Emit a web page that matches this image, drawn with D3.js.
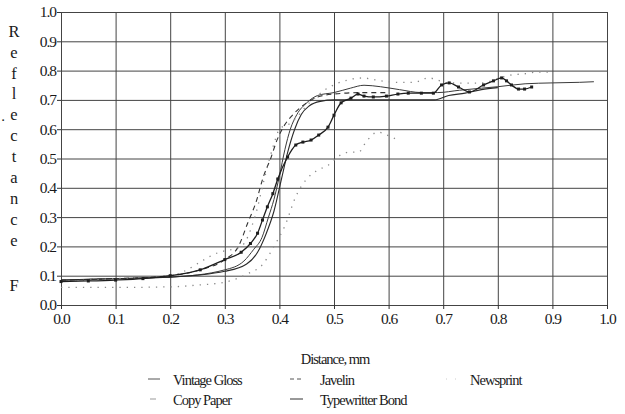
<!DOCTYPE html>
<meta charset="utf-8">
<style>
body { margin: 0; background: #fff; }
svg { display: block; }
text { font-family: "Liberation Serif", "DejaVu Serif", serif; fill: #1a1a1a; }
.grid line { stroke: #444; stroke-width: 1; }
.grid path { display: none; }
.axis path { display: none; }
.axis line { stroke: #333; }
.axis text { font-size: 15.5px; letter-spacing: -1px; }
.series { fill: none; }
</style>
<svg width="625" height="414"></svg>
<script src="https://d3js.org/d3.v7.min.js"></script>
<script>

// tick values for both axes
var ticks = [0, 0.1, 0.2, 0.3, 0.4, 0.5, 0.6, 0.7, 0.8, 0.9, 1.0];

// [distance mm, reflectance]
var vintageGloss = [[0,0.085],[0.1,0.09],[0.2,0.095],[0.3,0.12],[0.335,0.15],[0.353,0.19],[0.368,0.23],
  [0.38,0.3],[0.39,0.36],[0.4,0.44],[0.41,0.53],[0.42,0.6],[0.432,0.65],[0.45,0.69],[0.47,0.715],
  [0.5,0.725],[0.53,0.74],[0.555,0.75],[0.585,0.745],[0.62,0.735],[0.66,0.725],[0.69,0.725],
  [0.73,0.733],[0.77,0.74],[0.8,0.745],[0.85,0.755],[0.9,0.758],[0.95,0.76],[0.976,0.762]];

var javelin = [[0,0.085],[0.1,0.09],[0.2,0.1],[0.255,0.12],[0.3,0.155],[0.325,0.2],[0.342,0.28],
  [0.357,0.35],[0.371,0.44],[0.384,0.5],[0.395,0.56],[0.405,0.6],[0.425,0.65],[0.45,0.69],
  [0.47,0.71],[0.5,0.72],[0.55,0.725],[0.6,0.725]];

var newsprint = [[0,0.08],[0.1,0.09],[0.2,0.1],[0.29,0.18],[0.33,0.2],[0.355,0.3],[0.375,0.45],
  [0.39,0.55],[0.4,0.6],[0.42,0.62],[0.455,0.69],[0.48,0.73],[0.507,0.757],[0.53,0.77],
  [0.555,0.775],[0.57,0.77],[0.617,0.76],[0.647,0.76],[0.673,0.775],[0.71,0.758],[0.765,0.757],
  [0.825,0.785],[0.853,0.79],[0.87,0.795],[0.895,0.795]];

var copyPaper = [[0,0.06],[0.1,0.06],[0.2,0.062],[0.25,0.068],[0.3,0.078],[0.34,0.105],[0.37,0.14],
  [0.39,0.2],[0.41,0.27],[0.43,0.37],[0.45,0.43],[0.47,0.46],[0.49,0.478],[0.51,0.51],[0.53,0.522],
  [0.545,0.522],[0.56,0.56],[0.58,0.59],[0.6,0.578],[0.615,0.565]];

var typewritterBond = [[0,0.08],[0.05,0.082],[0.1,0.085],[0.15,0.09],[0.2,0.1],[0.255,0.12],[0.3,0.155],
  [0.33,0.18],[0.347,0.21],[0.36,0.245],[0.369,0.29],[0.378,0.335],[0.388,0.38],[0.397,0.43],
  [0.415,0.505],[0.43,0.546],[0.443,0.556],[0.458,0.563],[0.472,0.58],[0.489,0.607],[0.5,0.648],
  [0.513,0.69],[0.531,0.706],[0.544,0.72],[0.555,0.713],[0.572,0.71],[0.596,0.713],[0.617,0.72],
  [0.636,0.723],[0.66,0.723],[0.682,0.723],[0.697,0.751],[0.711,0.758],[0.728,0.744],[0.748,0.727],
  [0.774,0.751],[0.792,0.765],[0.807,0.775],[0.816,0.765],[0.825,0.751],[0.838,0.737],
  [0.849,0.737],[0.862,0.744]];

// a sixth trace that has no entry in the legend
var unlabeled = [[0,0.085],[0.1,0.09],[0.2,0.095],[0.3,0.115],[0.34,0.14],[0.36,0.18],[0.375,0.24],
  [0.39,0.32],[0.405,0.44],[0.415,0.52],[0.428,0.6],[0.44,0.65],[0.455,0.68],[0.475,0.695],
  [0.5,0.7],[0.55,0.7],[0.6,0.7],[0.65,0.7],[0.684,0.7],[0.71,0.715],[0.74,0.723],[0.77,0.735],[0.8,0.742]];

var yTitle = "Reflectance".split("");

var svg = d3.select("svg");

var x = d3.scaleLinear().domain([0, 1]).range([61, 607]);
var y = d3.scaleLinear().domain([0, 1]).range([305, 12]);

// grid
svg.append("g").attr("class", "grid")
    .attr("transform", "translate(0,305)")
    .call(d3.axisBottom(x).tickValues(ticks).tickSize(-293).tickFormat(""));
svg.append("g").attr("class", "grid")
    .attr("transform", "translate(61,0)")
    .call(d3.axisLeft(y).tickValues(ticks).tickSize(-546).tickFormat(""));

// axes
svg.append("g").attr("class", "axis")
    .attr("transform", "translate(0,305)")
    .call(d3.axisBottom(x).tickValues(ticks).tickSize(4).tickPadding(4).tickFormat(d3.format(".1f")));
svg.append("g").attr("class", "axis")
    .attr("transform", "translate(61,0)")
    .call(d3.axisLeft(y).tickValues(ticks).tickSize(4).tickPadding(1).tickFormat(d3.format(".1f")));

var line = d3.line()
    .x(function(d) { return x(d[0]); })
    .y(function(d) { return y(d[1]); })
    .curve(d3.curveMonotoneX);

var styles = [
  { data: vintageGloss, stroke: "#3a3a3a", width: 1, dash: null },
  { data: unlabeled, stroke: "#2a2a2a", width: 1.1, dash: null },
  { data: javelin, stroke: "#333", width: 1.1, dash: "5,4" },
  { data: newsprint, stroke: "#8a8a8a", width: 1.3, dash: "1.3,6" },
  { data: copyPaper, stroke: "#8a8a8a", width: 1.3, dash: "1.3,6" },
  { data: typewritterBond, stroke: "#1e1e1e", width: 1.3, dash: null }
];

styles.forEach(function(s) {
  svg.append("path").attr("class", "series")
      .attr("d", line(s.data))
      .attr("stroke", s.stroke)
      .attr("stroke-width", s.width)
      .attr("stroke-dasharray", s.dash);
});

svg.append("g").selectAll("rect")
  .data(typewritterBond)
  .enter().append("rect")
    .attr("x", function(d) { return x(d[0]) - 1.5; })
    .attr("y", function(d) { return y(d[1]) - 1.5; })
    .attr("width", 3)
    .attr("height", 3)
    .attr("fill", "#1e1e1e");

// y title, one letter per row
svg.append("g").selectAll("text")
  .data(yTitle)
  .enter().append("text")
    .attr("x", 14)
    .attr("y", function(d, i) { return 31 + i * 20.9; })
    .attr("dy", "0.35em")
    .attr("text-anchor", "middle")
    .style("font-size", "16.5px")
    .text(function(d) { return d; });
svg.append("text").attr("x", 14).attr("y", 285).attr("dy", "0.35em")
    .attr("text-anchor", "middle").style("font-size", "16.5px").text("F");
svg.append("text").attr("x", 3).attr("y", 116).attr("dy", "0.35em")
    .attr("text-anchor", "middle").style("font-size", "15px").text(".");

// x title
svg.append("text").attr("x", 335).attr("y", 364)
    .attr("text-anchor", "middle")
    .style("font-size", "14.5px").style("letter-spacing", "-1px")
    .text("Distance, mm");

// legend
var legend = [
  { name: "Vintage Gloss", x: 148, tx: 173, y: 381, stroke: "#555", dash: null, len: 12 },
  { name: "Javelin", x: 290, tx: 320, y: 381, stroke: "#555", dash: "4,3", len: 12 },
  { name: "Newsprint", x: 446, tx: 470, y: 381, stroke: "#ccc", dash: "1,8", len: 12 },
  { name: "Copy Paper", x: 150, tx: 173, y: 401, stroke: "#999", dash: null, len: 6 },
  { name: "Typewritter Bond", x: 290, tx: 320, y: 401, stroke: "#333", dash: null, len: 13 }
];

var lg = svg.append("g").selectAll("g")
  .data(legend)
  .enter().append("g");

lg.append("line")
    .attr("x1", function(d) { return d.x; })
    .attr("x2", function(d) { return d.x + d.len; })
    .attr("y1", function(d) { return d.y - 2; })
    .attr("y2", function(d) { return d.y - 2; })
    .attr("stroke", function(d) { return d.stroke; })
    .attr("stroke-dasharray", function(d) { return d.dash; });

lg.append("text")
    .attr("x", function(d) { return d.tx; })
    .attr("y", function(d) { return d.y; })
    .attr("dy", "0.3em")
    .style("font-size", "14.5px")
    .style("letter-spacing", "-1px")
    .text(function(d) { return d.name; });

</script>
